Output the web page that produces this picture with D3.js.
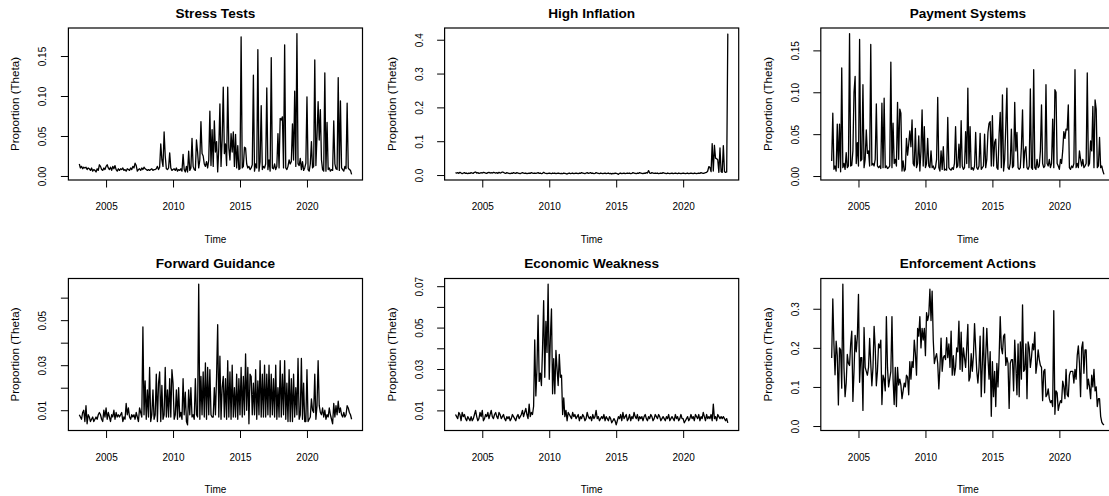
<!DOCTYPE html>
<html>
<head>
<meta charset="utf-8">
<title>Topic proportions over time</title>
<script src="https://cdn.jsdelivr.net/npm/d3@7"></script>
<style>
  body { margin: 0; background: #fff; }
  svg text { font-family: "Liberation Sans", Arial, Helvetica, sans-serif; fill: #000; }
  .title { font-weight: bold; font-size: 13.6px; }
  .tick text { font-size: 10px; }
  .xlab { font-size: 10px; }
  .ylab { font-size: 11.6px; }
</style>
</head>
<body>
<svg id="chart" width="1109" height="496"></svg>
<script>
// monthly series, Jan 2003 .. May 2023
var startYear = 2003;

var titles = ['Stress Tests', 'High Inflation', 'Payment Systems',
              'Forward Guidance', 'Economic Weakness', 'Enforcement Actions'];

var xTicks = [2005, 2010, 2015, 2020];

var stressTests = [
  .015,.010,.012,.009,.011,.010,.011,.008,.010,.009,.007,.010,
  .006,.008,.007,.005,.009,.007,.014,.012,.008,.007,.010,.008,
  .012,.014,.010,.008,.011,.007,.012,.009,.013,.008,.006,.009,
  .007,.009,.008,.010,.007,.008,.006,.009,.008,.007,.010,.008,
  .012,.010,.016,.013,.006,.008,.009,.007,.010,.008,.011,.009,
  .008,.007,.008,.007,.008,.009,.007,.008,.008,.009,.012,.008,
  .011,.040,.020,.012,.055,.025,.009,.008,.010,.029,.010,.007,
  .008,.009,.007,.010,.006,.008,.007,.009,.006,.027,.008,.005,
  .012,.005,.031,.007,.010,.047,.012,.008,.007,.045,.030,.010,
  .020,.068,.028,.025,.015,.012,.018,.010,.020,.081,.013,.058,
  .012,.069,.030,.043,.005,.035,.090,.012,.045,.111,.028,.040,
  .013,.111,.035,.020,.053,.030,.055,.012,.052,.010,.038,.008,
  .009,.174,.010,.012,.036,.035,.015,.010,.012,.008,.010,.014,
  .126,.006,.015,.010,.158,.006,.018,.088,.008,.012,.010,.015,
  .110,.008,.020,.006,.148,.010,.009,.015,.008,.012,.053,.010,
  .072,.070,.074,.010,.164,.010,.008,.012,.020,.015,.018,.065,
  .020,.106,.012,.178,.015,.013,.022,.008,.018,.007,.010,.016,
  .099,.008,.006,.015,.043,.010,.012,.145,.013,.050,.093,.045,
  .083,.020,.008,.006,.129,.006,.067,.008,.010,.006,.008,.007,
  .069,.015,.009,.008,.123,.007,.094,.010,.008,.006,.012,.009,
  .091,.010,.008,.007,.002
];

var highInflation = [
  .007,.006,.007,.005,.008,.006,.004,.006,.007,.005,.006,.004,
  .006,.005,.007,.006,.005,.008,.009,.006,.007,.005,.006,.007,
  .006,.008,.007,.006,.005,.007,.008,.006,.007,.006,.008,.007,
  .006,.007,.005,.008,.006,.007,.009,.008,.006,.005,.007,.006,
  .005,.004,.006,.005,.007,.006,.005,.007,.006,.005,.004,.006,
  .007,.006,.005,.006,.004,.005,.006,.005,.007,.006,.005,.006,
  .005,.006,.007,.005,.006,.004,.005,.008,.006,.005,.004,.005,
  .006,.005,.004,.006,.005,.006,.004,.005,.006,.005,.004,.005,
  .004,.006,.005,.004,.003,.005,.006,.004,.005,.006,.004,.005,
  .006,.005,.004,.006,.005,.007,.006,.005,.004,.006,.007,.005,
  .006,.007,.005,.006,.004,.005,.007,.006,.005,.004,.006,.005,
  .004,.005,.006,.004,.005,.006,.004,.005,.003,.005,.004,.006,
  .005,.004,.002,.005,.006,.004,.005,.006,.004,.005,.006,.005,
  .006,.004,.005,.007,.006,.005,.004,.006,.005,.007,.006,.005,
  .004,.006,.005,.007,.006,.013,.006,.005,.007,.006,.005,.006,
  .005,.006,.004,.005,.006,.005,.007,.006,.005,.004,.006,.005,
  .004,.005,.006,.004,.005,.006,.005,.004,.006,.005,.004,.005,
  .006,.005,.004,.005,.006,.004,.005,.006,.005,.004,.006,.005,
  .004,.005,.006,.005,.007,.006,.005,.006,.007,.008,.012,.025,
  .022,.010,.093,.012,.088,.050,.048,.045,.008,.080,.010,.008,
  .087,.010,.008,.009,.418
];

var paymentSystems = [
  .018,.075,.008,.012,.006,.062,.010,.062,.005,.129,.010,.015,
  .008,.028,.010,.012,.170,.012,.013,.030,.100,.119,.015,.040,
  .012,.163,.018,.020,.109,.010,.020,.055,.027,.030,.012,.157,
  .013,.015,.012,.020,.086,.012,.010,.012,.009,.087,.010,.093,
  .010,.012,.009,.010,.012,.136,.010,.063,.015,.020,.012,.088,
  .020,.080,.075,.006,.018,.006,.008,.045,.025,.038,.054,.035,
  .067,.015,.012,.057,.010,.015,.048,.006,.030,.079,.012,.059,
  .010,.015,.045,.012,.010,.030,.010,.012,.008,.010,.020,.094,
  .010,.006,.030,.008,.035,.007,.008,.007,.070,.010,.008,.007,
  .010,.008,.015,.059,.010,.012,.038,.010,.066,.012,.008,.010,
  .053,.015,.105,.010,.059,.008,.010,.007,.012,.052,.010,.008,
  .012,.051,.008,.010,.012,.050,.010,.020,.052,.063,.065,.012,
  .072,.012,.040,.044,.010,.008,.050,.076,.010,.097,.006,.020,
  .060,.105,.010,.008,.015,.056,.010,.012,.088,.030,.052,.010,
  .008,.010,.035,.079,.010,.030,.035,.010,.008,.012,.104,.010,
  .008,.127,.010,.008,.020,.010,.012,.030,.085,.015,.010,.012,
  .109,.015,.012,.020,.010,.015,.068,.010,.103,.100,.015,.012,
  .008,.020,.015,.030,.053,.045,.056,.055,.085,.010,.008,.012,
  .010,.015,.127,.010,.015,.010,.030,.020,.012,.020,.010,.012,
  .015,.123,.012,.015,.042,.030,.083,.010,.091,.080,.010,.012,
  .046,.010,.012,.006,.002
];

var forwardGuidance = [
  .008,.007,.006,.009,.010,.005,.012,.004,.008,.007,.005,.006,
  .007,.005,.006,.007,.006,.008,.009,.008,.006,.005,.010,.007,
  .011,.006,.009,.007,.005,.008,.007,.010,.006,.009,.007,.008,
  .007,.008,.009,.005,.007,.006,.013,.008,.011,.007,.006,.008,
  .007,.008,.006,.009,.007,.005,.011,.009,.007,.047,.008,.023,
  .006,.019,.007,.029,.005,.008,.019,.006,.008,.026,.005,.022,
  .027,.005,.021,.006,.008,.029,.007,.019,.007,.024,.007,.028,
  .022,.006,.008,.019,.006,.020,.007,.009,.006,.024,.008,.018,
  .005,.0035,.019,.008,.020,.007,.008,.006,.024,.008,.007,.066,
  .006,.025,.008,.027,.007,.031,.006,.029,.008,.028,.008,.007,
  .007,.020,.008,.025,.048,.007,.034,.006,.020,.025,.007,.024,
  .006,.032,.007,.027,.006,.030,.007,.020,.007,.026,.006,.024,
  .008,.029,.007,.025,.008,.035,.010,.029,.004,.026,.025,.008,
  .022,.008,.028,.006,.023,.008,.032,.007,.026,.007,.030,.007,
  .026,.008,.030,.007,.026,.008,.024,.007,.030,.006,.020,.007,
  .032,.007,.026,.008,.032,.006,.022,.005,.028,.005,.024,.005,
  .026,.007,.020,.008,.033,.006,.008,.033,.006,.022,.005,.005,
  .028,.005,.006,.007,.015,.010,.009,.026,.006,.012,.032,.012,
  .009,.008,.011,.007,.010,.006,.008,.007,.011,.008,.006,.004,
  .013,.007,.012,.008,.014,.009,.011,.008,.007,.009,.007,.008,
  .012,.011,.009,.008,.006
];

var economicWeakness = [
  .008,.007,.006,.009,.008,.005,.009,.007,.008,.006,.005,.007,
  .006,.005,.007,.005,.006,.008,.010,.007,.005,.006,.009,.007,
  .010,.005,.006,.008,.007,.009,.006,.008,.010,.007,.006,.008,
  .009,.007,.006,.009,.008,.006,.007,.008,.006,.005,.007,.006,
  .007,.005,.006,.008,.007,.006,.005,.007,.008,.006,.007,.008,
  .010,.007,.009,.011,.008,.006,.013,.007,.009,.008,.012,.044,
  .017,.030,.056,.024,.028,.022,.040,.063,.026,.053,.038,.071,
  .025,.045,.059,.018,.035,.018,.039,.030,.022,.037,.026,.027,
  .008,.016,.007,.010,.005,.009,.008,.007,.006,.009,.007,.008,
  .006,.007,.008,.005,.007,.006,.008,.007,.005,.006,.009,.007,
  .006,.007,.005,.008,.006,.007,.010,.006,.007,.005,.006,.007,
  .006,.008,.005,.007,.006,.005,.007,.006,.004,.005,.006,.005,
  .003,.005,.007,.006,.008,.005,.009,.006,.007,.008,.005,.006,
  .008,.005,.007,.006,.009,.007,.006,.008,.005,.007,.006,.007,
  .005,.007,.008,.006,.005,.007,.006,.008,.007,.005,.006,.008,
  .007,.006,.008,.007,.005,.006,.007,.006,.005,.007,.006,.008,
  .005,.006,.007,.006,.005,.008,.006,.007,.005,.006,.008,.006,
  .006,.004,.005,.006,.007,.005,.006,.008,.006,.007,.005,.008,
  .007,.006,.008,.005,.007,.006,.009,.007,.005,.008,.006,.007,
  .006,.008,.005,.013,.006,.007,.005,.008,.007,.006,.007,.006,
  .007,.006,.005,.006,.004
];

var enforcementActions = [
  .174,.325,.210,.131,.217,.180,.054,.200,.195,.097,.363,.150,
  .075,.110,.183,.160,.155,.210,.243,.063,.140,.232,.190,.230,
  .337,.112,.175,.175,.040,.252,.150,.140,.130,.150,.224,.160,
  .103,.150,.255,.200,.103,.140,.210,.200,.220,.055,.130,.120,
  .090,.280,.150,.100,.120,.140,.280,.120,.055,.150,.050,.150,
  .105,.120,.105,.070,.090,.110,.100,.130,.125,.080,.165,.120,
  .165,.150,.220,.185,.130,.250,.230,.280,.200,.250,.220,.250,
  .180,.290,.270,.285,.350,.270,.345,.220,.160,.175,.185,.160,
  .095,.150,.225,.140,.175,.180,.170,.226,.175,.210,.150,.243,
  .130,.180,.130,.150,.200,.190,.268,.145,.240,.140,.200,.175,
  .150,.200,.260,.115,.125,.185,.140,.180,.262,.200,.140,.110,
  .150,.230,.075,.160,.252,.085,.180,.250,.175,.120,.190,.025,
  .165,.075,.140,.050,.160,.100,.175,.280,.200,.185,.230,.235,
  .155,.175,.160,.045,.160,.170,.170,.090,.220,.155,.080,.210,
  .075,.215,.120,.310,.140,.145,.210,.070,.215,.200,.150,.175,
  .210,.195,.240,.135,.160,.195,.170,.155,.150,.065,.140,.145,
  .075,.080,.095,.070,.060,.065,.050,.295,.030,.090,.085,.040,
  .055,.065,.060,.115,.100,.070,.145,.080,.075,.130,.140,.140,
  .140,.110,.145,.120,.180,.205,.160,.075,.200,.215,.135,.195,
  .195,.095,.120,.100,.070,.130,.100,.145,.090,.100,.050,.070,
  .070,.025,.010,.005,.003
];

// y ticks and which of them carry a label
var yTicks = [
  [0, .05, .10, .15],
  [0, .1, .2, .3, .4],
  [0, .05, .10, .15],
  [.01, .02, .03, .04, .05, .06],
  [.01, .02, .03, .04, .05, .06, .07],
  [0, .1, .2, .3]
];
var yTickLabels = [
  ['0.00', '0.05', '0.10', '0.15'],
  ['0.0', '0.1', '0.2', '0.3', '0.4'],
  ['0.00', '0.05', '0.10', '0.15'],
  ['0.01', '', '0.03', '', '0.05', ''],
  ['0.01', '', '0.03', '', '0.05', '', '0.07'],
  ['0.0', '0.1', '0.2', '0.3']
];

var series = [stressTests, highInflation, paymentSystems,
              forwardGuidance, economicWeakness, enforcementActions];

var svg = d3.select('#chart');

var panelW = 376.2, panelH = 250.5,
    box = { left: 68.4, top: 28, width: 294.1, height: 152 };

// R-style axis range: data range padded 4% on each side
function rRange(ext) {
  var pad = (ext[1] - ext[0]) * 0.04;
  return [ext[0] - pad, ext[1] + pad];
}

series.forEach(function (vals, i) {
  var col = i % 3, row = Math.floor(i / 3);
  var pts = vals.map(function (v, k) { return { t: startYear + k / 12, v: v }; });

  var x = d3.scaleLinear()
    .domain(rRange(d3.extent(pts, function (d) { return d.t; })))
    .range([0, box.width]);
  var y = d3.scaleLinear()
    .domain(rRange(d3.extent(vals)))
    .range([box.height, 0]);

  var g = svg.append('g')
    .attr('transform', 'translate(' + (col * panelW + box.left) + ',' + (row * panelH + box.top) + ')');

  // x axis
  var xa = g.append('g')
    .attr('transform', 'translate(0,' + box.height + ')')
    .call(d3.axisBottom(x).tickValues(xTicks).tickFormat(d3.format('d')).tickSize(7.5).tickSizeOuter(0));
  xa.select('.domain').remove();
  xa.selectAll('.tick line').attr('stroke', '#000').attr('stroke-width', 1);
  xa.selectAll('.tick text').attr('y', 30).attr('dy', 0).attr('fill', '#000');

  // y axis with labels parallel to the axis
  var labels = yTickLabels[i];
  var ya = g.append('g')
    .call(d3.axisLeft(y).tickValues(yTicks[i]).tickSize(7.5).tickSizeOuter(0)
      .tickFormat(function (d, j) { return labels[j]; }));
  ya.select('.domain').remove();
  ya.selectAll('.tick line').attr('stroke', '#000').attr('stroke-width', 1);
  ya.selectAll('.tick text')
    .attr('transform', 'rotate(-90)')
    .attr('x', 0).attr('y', -22).attr('dy', 0)
    .attr('text-anchor', 'middle').attr('fill', '#000');

  // series line
  g.append('path')
    .datum(pts)
    .attr('fill', 'none')
    .attr('stroke', '#000')
    .attr('stroke-width', 1.3)
    .attr('stroke-linejoin', 'round')
    .attr('d', d3.line().x(function (d) { return x(d.t); }).y(function (d) { return y(d.v); }));

  // frame
  g.append('rect')
    .attr('width', box.width).attr('height', box.height)
    .attr('fill', 'none').attr('stroke', '#000').attr('stroke-width', 1.2);

  g.append('text').attr('class', 'title')
    .attr('x', box.width / 2).attr('y', -10.5)
    .attr('text-anchor', 'middle')
    .text(titles[i]);

  g.append('text').attr('class', 'xlab')
    .attr('x', box.width / 2).attr('y', box.height + 62.5)
    .attr('text-anchor', 'middle')
    .text('Time');

  g.append('text').attr('class', 'ylab')
    .attr('transform', 'translate(-49,' + (box.height / 2) + ') rotate(-90)')
    .attr('text-anchor', 'middle')
    .text('Proportion (Theta)');
});
</script>
</body>
</html>
